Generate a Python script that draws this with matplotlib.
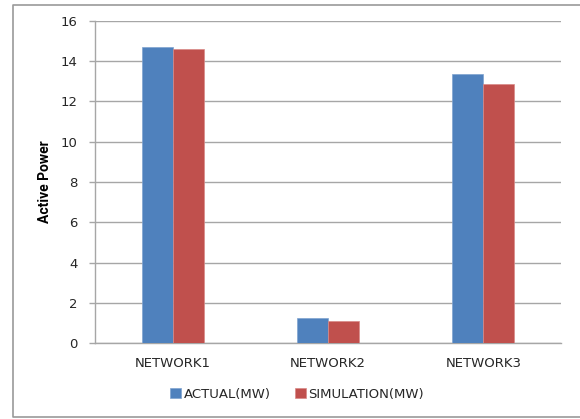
import matplotlib
matplotlib.use('Agg')
import matplotlib.pyplot as plt
from matplotlib.lines import Line2D
import numpy as np

# data
networks = ['NETWORK1', 'NETWORK2', 'NETWORK3']
actual_mw = [14.7, 1.23, 13.35]
simulation_mw = [14.6, 1.08, 12.85]
y_ticks = [0, 2, 4, 6, 8, 10, 12, 14, 16]

blue = '#4F81BD'
red = '#C0504D'
grid_col = '#A6A6A6'
text_col = '#262626'

plt.rcParams['font.family'] = ['DejaVu Sans']

fig = plt.figure(figsize=(5.8, 4.19), dpi=100)
ax = fig.add_axes([95/580, 76/419, 466/580, 322/419])

x = np.arange(len(networks))
w = 0.2
ax.bar(x - w/2, actual_mw, w, color=blue, edgecolor='#7FA3D0', linewidth=0.5,
       label='ACTUAL(MW)', zorder=3)
ax.bar(x + w/2, simulation_mw, w, color=red, edgecolor='#D88A88', linewidth=0.5,
       label='SIMULATION(MW)', zorder=3)

ax.set_xlim(-0.5, len(networks) - 0.5)
ax.set_ylim(0, 16)
ax.set_yticks(y_ticks)
ax.set_xticks(x)
ax.set_xticklabels(networks)
ax.yaxis.grid(True, color=grid_col, linewidth=1.0, zorder=0)
ax.set_axisbelow(True)

for s in ['top', 'right']:
    ax.spines[s].set_visible(False)
for s in ['left', 'bottom']:
    ax.spines[s].set_color(grid_col)
    ax.spines[s].set_linewidth(1.0)

ax.tick_params(axis='y', length=4.5, width=1.0, color=grid_col, pad=8,
               labelsize=9.5, labelcolor=text_col)
ax.tick_params(axis='x', length=0, pad=10, labelsize=9.5, labelcolor=text_col)

ax.set_ylabel('Active Power', fontsize=10, fontweight='bold', family=['Roboto', 'DejaVu Sans'],
              labelpad=6, color='black')

fig.legend(loc='center', bbox_to_anchor=(297/580, 1 - 394/419), ncol=2,
           frameon=False, fontsize=9.5, handlelength=0.85, handleheight=0.8,
           handletextpad=0.2, columnspacing=1.8, labelcolor=text_col)

# outer chart border (top, left, bottom; right side runs off the image)
x0, x1 = 12.5/580, 1.05
y0, y1 = 2/419, 1 - 5.5/419
fig.lines.append(Line2D([x1, x0, x0, x1], [y1, y1, y0, y0], transform=fig.transFigure,
                        color='#9A9A9A', linewidth=1.2))

fig.savefig('out.png', dpi=100)
